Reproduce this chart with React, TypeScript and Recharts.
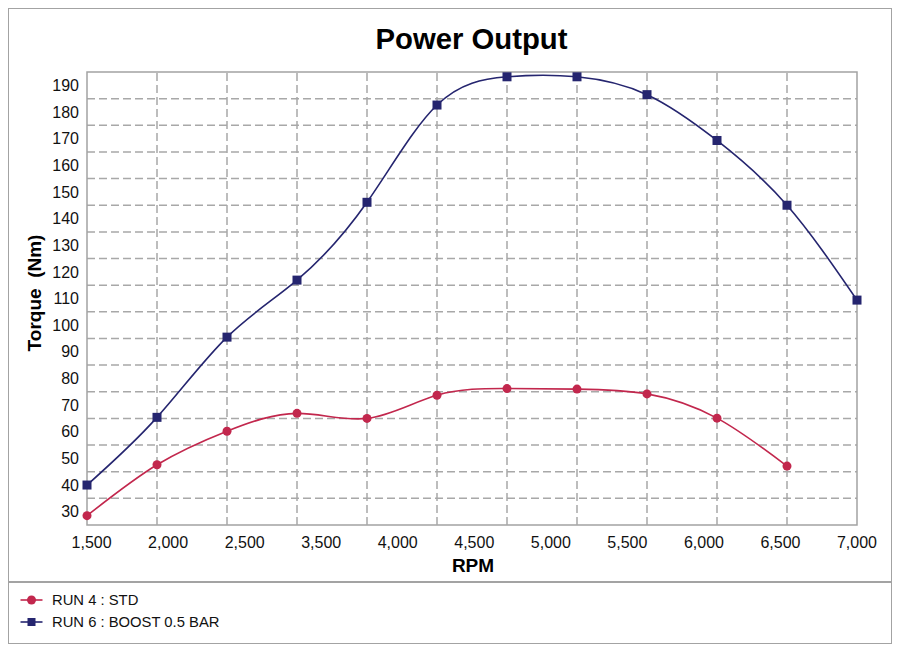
import React from 'react';
import { LineChart, Line, XAxis, YAxis, CartesianGrid, ReferenceArea, ReferenceLine } from 'recharts';

const rpmIndex = [0, 1, 2, 3, 4, 5, 6, 7, 8, 9, 10, 11];
const run4Std = [28.5, 47.6, 60.2, 66.9, 65.0, 73.7, 76.2, 76.0, 74.2, 65.1, 47.1, null];
const run6Boost = [40.0, 65.4, 95.5, 116.9, 146.1, 182.6, 193.2, 193.2, 186.5, 169.3, 145.0, 109.4];
const xTickLabels = ['1,500', '2,000', '2,500', '3,500', '4,000', '4,500', '5,000', '5,500', '6,000', '6,500', '7,000'];
const xLabelSlots = [0, 1, 2, 3, 4, 5, 6, 7, 8, 9, 10];
const yTickValues = [30, 40, 50, 60, 70, 80, 90, 100, 110, 120, 130, 140, 150, 160, 170, 180, 190];
const yGridValues = [35, 45, 55, 65, 75, 85, 95, 105, 115, 125, 135, 145, 155, 165, 175, 185];
const xGridValues = [1, 2, 3, 4, 5, 6, 7, 8, 9, 10];

const data = rpmIndex.map((i, k) => ({ i, slot: xLabelSlots[k], std: run4Std[k], boost: run6Boost[k] }));

const RED = '#c2274d';
const BLUE = '#25256f';
const FONT = '"Liberation Sans", Arial, Helvetica, sans-serif';
const BORDER = '#a3a3a3';
const GRID = '#a8a8a8';

const SquareDot = (props: any) => {
  const { cx, cy } = props;
  if (cx == null || cy == null) return null;
  return <rect x={cx - 4.5} y={cy - 4.5} width={9} height={9} fill={BLUE} stroke="none" />;
};

export default function App() {
  return (
    <div style={{ position: 'absolute', left: 0, top: 0, width: 900, height: 653, background: '#fff', fontFamily: FONT }}>
      <div style={{ position: 'absolute', left: 8, top: 8, width: 884, height: 636, border: `1.5px solid ${BORDER}`, boxSizing: 'border-box' }} />
      <div style={{ position: 'absolute', left: 8, top: 581, width: 884, height: 1.5, background: BORDER }} />
      <div style={{ position: 'absolute', left: 0, top: 0 }}>
        <LineChart width={900} height={590} data={data} margin={{ top: 72, left: 27, right: 43, bottom: 35 }}>
          <CartesianGrid
            stroke={GRID}
            strokeWidth={1.5}
            strokeDasharray="8 4"
            vertical={false}
            horizontalValues={yGridValues}
          />
          <XAxis
            dataKey="i"
            type="number"
            domain={[0, 11]}
            ticks={rpmIndex}
            tick={false}
            tickLine={false}
            axisLine={false}
            height={0}
          />
          <XAxis
            xAxisId="lbl"
            dataKey="slot"
            type="number"
            domain={[-0.06, 10]}
            allowDataOverflow
            ticks={xLabelSlots}
            tickFormatter={(v: number) => xTickLabels[v] ?? ''}
            tickLine={false}
            axisLine={false}
            height={30}
            tickMargin={6}
            tick={{ fill: '#111', fontSize: 16, fontFamily: FONT }}
            interval={0}
          />
          <YAxis
            type="number"
            domain={[25, 195]}
            ticks={yTickValues}
            tickLine={false}
            axisLine={false}
            width={60}
            interval={0}
            tick={{ fill: '#111', fontSize: 16, fontFamily: FONT }}
          />
          {xGridValues.map((v) => (
            <ReferenceLine key={v} x={v} stroke={GRID} strokeWidth={1.5} strokeDasharray="8 4" />
          ))}
          <ReferenceArea x1={0} x2={11} y1={25} y2={195} fill="none" stroke={BORDER} strokeWidth={1.5} />
          <Line
            xAxisId="lbl"
            type="linear"
            dataKey="std"
            stroke="none"
            strokeWidth={0}
            dot={false}
            activeDot={false}
            legendType="none"
            isAnimationActive={false}
          />
          <Line
            type="natural"
            dataKey="std"
            stroke={RED}
            strokeWidth={1.6}
            dot={{ r: 4.5, fill: RED, stroke: RED, strokeWidth: 0 }}
            activeDot={false}
            isAnimationActive={false}
            connectNulls={false}
          />
          <Line
            type="natural"
            dataKey="boost"
            stroke={BLUE}
            strokeWidth={1.6}
            dot={<SquareDot />}
            activeDot={false}
            isAnimationActive={false}
          />
        </LineChart>
      </div>
      <svg width={900} height={653} style={{ position: 'absolute', left: 0, top: 0, pointerEvents: 'none' }}>
        <text x={471.5} y={48.5} textAnchor="middle" fontSize={29.3} fontWeight="bold" fill="#000" fontFamily={FONT}>
          Power Output
        </text>
        <text x={473} y={571.5} textAnchor="middle" fontSize={19} fontWeight="bold" fill="#000" fontFamily={FONT}>
          RPM
        </text>
        <text
          x={0}
          y={0}
          transform="translate(41 293) rotate(-90)"
          textAnchor="middle"
          fontSize={19}
          fontWeight="bold"
          fill="#000"
          fontFamily={FONT}
          style={{ whiteSpace: 'pre' }}
        >
          {'Torque  (Nm)'}
        </text>
        <line x1={20.5} y1={600} x2={42.5} y2={600} stroke={RED} strokeWidth={1.6} />
        <circle cx={31.5} cy={600} r={4.5} fill={RED} />
        <text x={52} y={605.3} fontSize={14.8} fill="#111" fontFamily={FONT}>RUN 4 : STD</text>
        <line x1={20.5} y1={622} x2={42.5} y2={622} stroke={BLUE} strokeWidth={1.6} />
        <rect x={27.5} y={618} width={8} height={8} fill={BLUE} />
        <text x={52} y={627.3} fontSize={14.8} fill="#111" fontFamily={FONT}>RUN 6 : BOOST 0.5 BAR</text>
      </svg>
    </div>
  );
}
